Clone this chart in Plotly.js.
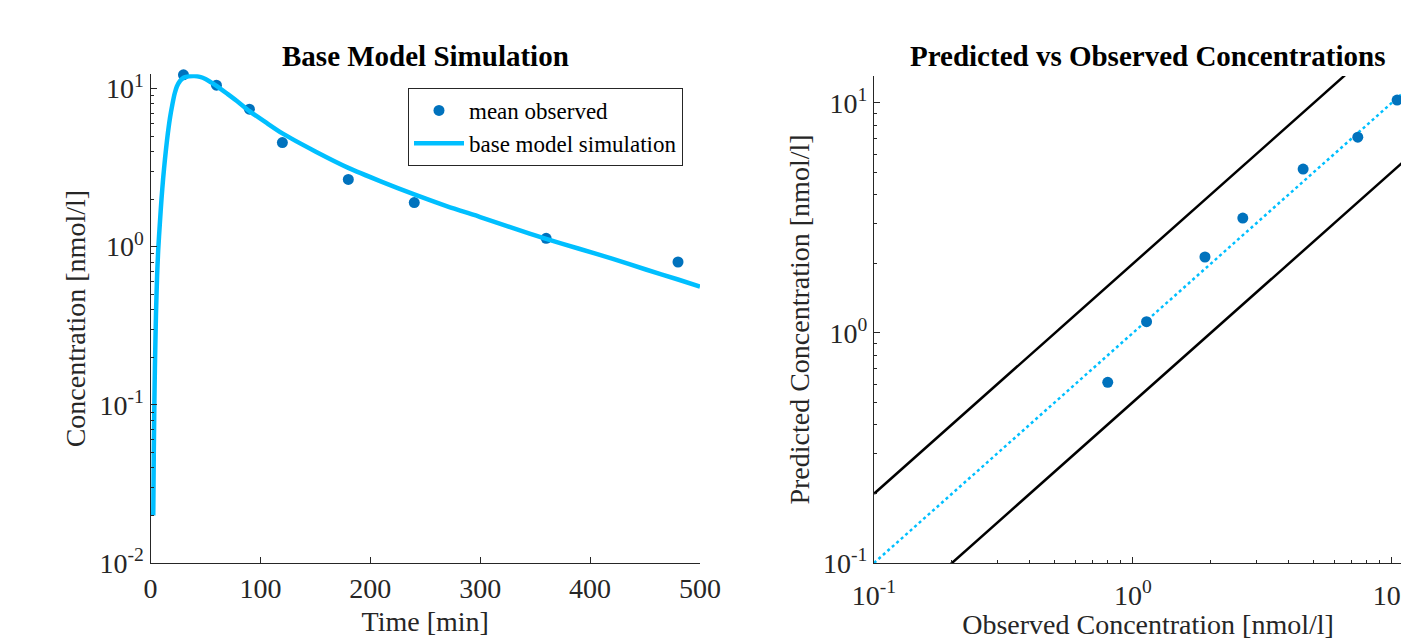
<!DOCTYPE html>
<html>
<head>
<meta charset="utf-8">
<script src="https://cdn.plot.ly/plotly-3.0.1.min.js"></script>
<style>
html,body{margin:0;padding:0;overflow:hidden;background:#fff;}
#chart{width:1422px;height:640px;}
</style>
</head>
<body>
<div id="chart"></div>
<script>
// ---- data ----
const obsTime = [30, 60, 90, 120, 180, 240, 360, 480];
const obsMean = [12.2, 10.5, 7.4, 4.55, 2.66, 1.9, 1.13, 0.80];
const predAtObs = [11.7, 10.3, 7.1, 5.16, 3.16, 2.14, 1.12, 0.61];

const simTime = [2.5, 3, 3.5, 4, 5, 6, 7, 8.5, 10, 11.5, 13.2, 15, 17.7, 20, 22, 24, 27, 30, 35, 40, 45, 50, 60, 70, 80, 90, 105, 120, 150, 180, 210, 240, 270, 300, 330, 360, 390, 420, 450, 480, 500];
const simConc = [0.02, 0.05, 0.1, 0.17, 0.38, 0.65, 0.95, 1.4, 2.0, 2.7, 3.6, 4.7, 6.5, 8.0, 9.3, 10.3, 11.2, 11.7, 11.95, 12.0, 11.85, 11.5, 10.4, 9.25, 8.2, 7.2, 6.1, 5.2, 4.0, 3.15, 2.58, 2.14, 1.8, 1.54, 1.31, 1.12, 0.97, 0.84, 0.72, 0.62, 0.56];

const refX = [0.1, 20];
const foldUpper = 2;
const foldLower = 0.5;

const leftXTicks = [0, 100, 200, 300, 400, 500];
const leftYTicks = [0.01, 0.1, 1, 10];
const leftYLabels = ['10<sup>-2</sup>', '10<sup>-1</sup>', '10<sup>0</sup>', '10<sup>1</sup>'];
const rightTicks = [0.1, 1, 10];
const rightLabels = ['10<sup>-1</sup>', '10<sup>0</sup>', '10<sup>1</sup>'];

// ---- styling ----
const W = 1422, H = 640;
const axisCol = '#262626';
const font = 'Liberation Serif, Times New Roman, serif';
const obsCol = '#0072bd';
const simCol = '#00bfff';

function minorVals(lo, hi) {
  const v = [];
  for (let e = lo; e < hi; e++) for (let m = 2; m <= 9; m++) v.push(m * Math.pow(10, e));
  return v;
}

const pxX = p => p / W;
const pxY = p => 1 - p / H;

const baseAxis = {
  showline: true, linecolor: axisCol, linewidth: 1, mirror: false,
  showgrid: false, zeroline: false,
  ticks: 'inside', ticklen: 6, tickcolor: axisCol, tickwidth: 1,
  tickfont: {family: font, size: 28, color: axisCol},
  fixedrange: true
};

const traces = [
  {x: obsTime, y: obsMean, mode: 'markers', name: 'mean observed',
   marker: {color: obsCol, size: 11}, cliponaxis: false, xaxis: 'x', yaxis: 'y'},
  {x: simTime, y: simConc, mode: 'lines', name: 'base model simulation',
   line: {color: simCol, width: 4.5, shape: 'spline', smoothing: 0.6}, xaxis: 'x', yaxis: 'y'},
  {x: refX, y: refX.map(v => v * foldUpper), mode: 'lines', showlegend: false,
   line: {color: '#000', width: 2.5}, xaxis: 'x2', yaxis: 'y2'},
  {x: refX, y: refX.map(v => v * foldLower), mode: 'lines', showlegend: false,
   line: {color: '#000', width: 2.5}, xaxis: 'x2', yaxis: 'y2'},
  {x: refX, y: refX, mode: 'lines', showlegend: false,
   line: {color: simCol, width: 2.5, dash: 'dot'}, xaxis: 'x2', yaxis: 'y2'},
  {x: obsMean, y: predAtObs, mode: 'markers', showlegend: false,
   marker: {color: obsCol, size: 11}, xaxis: 'x2', yaxis: 'y2'}
];

const leftTop = Math.log10(12.3);
const leftDecade = (563 - 76) / (2 + Math.log10(12.0));
const leftTopPx = 563 - (leftTop + 2) * leftDecade;

const layout = {
  width: W, height: H,
  margin: {l: 0, r: 0, t: 0, b: 0},
  paper_bgcolor: '#fff', plot_bgcolor: '#fff',
  showlegend: true,
  legend: {
    x: pxX(408), y: pxY(88), xanchor: 'left', yanchor: 'top',
    bordercolor: axisCol, borderwidth: 1, bgcolor: '#fff',
    font: {family: font, size: 23, color: '#000'},
    itemwidth: 50, tracegroupgap: 0
  },
  xaxis: Object.assign({}, baseAxis, {
    domain: [pxX(150.5), pxX(700)], range: [0, 500],
    tickmode: 'array', tickvals: leftXTicks, ticktext: leftXTicks.map(String),
    anchor: 'y',
    title: {text: 'Time [min]', standoff: 8, font: {family: font, size: 28, color: axisCol}}
  }),
  yaxis: Object.assign({}, baseAxis, {
    type: 'log', domain: [pxY(563), pxY(leftTopPx)], range: [-2, leftTop],
    tickmode: 'array', tickvals: leftYTicks, ticktext: leftYLabels,
    minor: {tickmode: 'array', tickvals: minorVals(-2, 1), ticks: 'inside', ticklen: 3, tickcolor: axisCol},
    anchor: 'x',
    title: {text: 'Concentration [nmol/l]', standoff: 5, font: {family: font, size: 28, color: axisCol}}
  }),
  xaxis2: Object.assign({}, baseAxis, {
    type: 'log', domain: [pxX(874), 1], range: [-1, Math.log10(13.1)],
    tickmode: 'array', tickvals: rightTicks, ticktext: rightLabels,
    ticklabelstandoff: 7,
    minor: {tickmode: 'array', tickvals: minorVals(-1, 2), ticks: 'inside', ticklen: 3, tickcolor: axisCol},
    anchor: 'y2',
    title: {text: 'Observed Concentration [nmol/l]', standoff: 20, font: {family: font, size: 28, color: axisCol}}
  }),
  yaxis2: Object.assign({}, baseAxis, {
    type: 'log', domain: [pxY(563), pxY(76)], range: [-1, Math.log10(13.1)],
    tickmode: 'array', tickvals: rightTicks, ticktext: rightLabels,
    minor: {tickmode: 'array', tickvals: minorVals(-1, 2), ticks: 'inside', ticklen: 3, tickcolor: axisCol},
    anchor: 'x2',
    title: {text: 'Predicted Concentration [nmol/l]', standoff: 5, font: {family: font, size: 28, color: axisCol}}
  }),
  annotations: [
    {text: '<b>Base Model Simulation</b>', xref: 'paper', yref: 'paper',
     x: (pxX(150.5) + pxX(700)) / 2, y: pxY(56), xanchor: 'center', yanchor: 'middle',
     showarrow: false, font: {family: font, size: 29, color: '#000'}},
    {text: '<b>Predicted vs Observed Concentrations</b>', xref: 'paper', yref: 'paper',
     x: (pxX(874) + 1) / 2, y: pxY(56), xanchor: 'center', yanchor: 'middle',
     showarrow: false, font: {family: font, size: 29, color: '#000'}}
  ]
};

Plotly.newPlot('chart', traces, layout, {displayModeBar: false, staticPlot: true});
</script>
</body>
</html>
